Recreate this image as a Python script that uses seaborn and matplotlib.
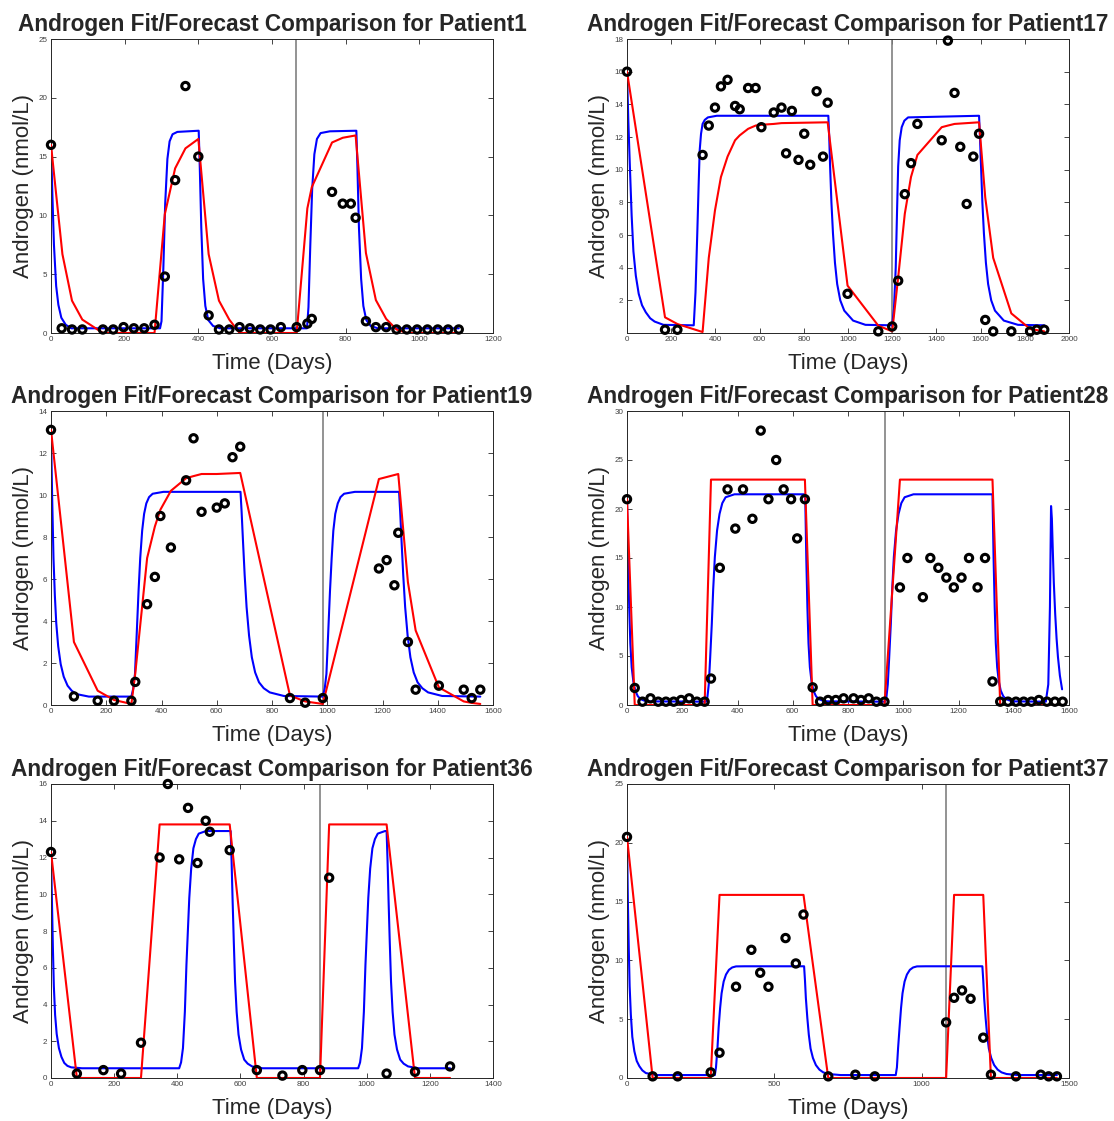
import numpy as np
import pandas as pd
import matplotlib
matplotlib.use("Agg")
import matplotlib.pyplot as plt
import seaborn as sns

# ---- data (days, androgen nmol/L) ----
patients = ["Patient1", "Patient17", "Patient19", "Patient28", "Patient36", "Patient37"]
cutoff_days = [666, 1201, 986, 933, 853, 1083]
x_max = [1200, 2000, 1600, 1600, 1400, 1500]
x_step = [200, 200, 200, 200, 200, 500]
y_max = [25, 18, 14, 30, 16, 25]
y_step = [5, 2, 2, 5, 2, 5]

# Patient1
p1_obs_t = [0, 29, 57, 85, 141, 169, 197, 225, 253, 281, 309, 337, 365, 400, 428, 456, 484, 512, 540, 568,
            596, 624, 667, 696, 708, 763, 792, 814, 827, 855, 882, 910, 938, 966, 994, 1022, 1050, 1078, 1107]
p1_obs_a = [16.0, 0.4, 0.3, 0.3, 0.3, 0.3, 0.5, 0.4, 0.4, 0.7, 4.8, 13.0, 21.0, 15.0, 1.5, 0.3, 0.3, 0.5, 0.4, 0.3,
            0.3, 0.5, 0.5, 0.8, 1.2, 12.0, 11.0, 11.0, 9.8, 1.0, 0.5, 0.5, 0.3, 0.3, 0.3, 0.3, 0.3, 0.3, 0.3]
p1_fc_t = [0, 31, 57, 85, 141, 281, 309, 337, 365, 400, 428, 456, 484, 512, 667, 696, 708, 763, 792, 827,
           855, 882, 910, 938, 966, 1107]
p1_fc_a = [16.0, 6.7, 2.75, 1.14, 0.0, 0.0, 10.1, 14.0, 15.7, 16.5, 6.7, 2.75, 1.14, 0.0, 0.0, 10.6, 12.4, 16.2,
           16.6, 16.8, 6.8, 2.8, 1.2, 0.3, 0.0, 0.0]
p1_fit_t = [0, 4, 8, 14, 20, 28, 40, 55, 296, 300, 305, 310, 316, 322, 330, 343, 401, 404, 408, 413, 419, 427, 440,
            459, 695, 699, 704, 709, 715, 722, 732, 757, 829, 832, 836, 842, 848, 856, 868, 887, 1107]
p1_fit_a = [16.0, 11.5, 7.5, 4.0, 2.4, 1.3, 0.7, 0.4, 0.4, 1.0, 5.5, 11.0, 14.8, 16.3, 16.9, 17.1, 17.2, 14.0,
            9.0, 4.6, 2.3, 1.1, 0.6, 0.4, 0.4, 2.2, 7.5, 12.2, 15.2, 16.5, 17.0, 17.15, 17.2, 14.0, 9.0, 4.6, 2.3,
            1.1, 0.6, 0.4, 0.4]

# Patient17
p2_obs_t = [0, 172, 228, 342, 370, 398, 425, 455, 489, 510, 548, 582, 608, 664, 699, 720, 746, 776, 802, 829,
            858, 887, 908, 998, 1137, 1200, 1227, 1257, 1285, 1314, 1424, 1452, 1482, 1508, 1537, 1567, 1593,
            1621, 1657, 1739, 1824, 1854, 1888]
p2_obs_a = [16.0, 0.2, 0.2, 10.9, 12.7, 13.8, 15.1, 15.5, 13.9, 13.7, 15.0, 15.0, 12.6, 13.5, 13.8, 11.0, 13.6,
            10.6, 12.2, 10.3, 14.8, 10.8, 14.1, 2.4, 0.1, 0.4, 3.2, 8.5, 10.4, 12.8, 11.8, 17.9, 14.7, 11.4, 7.9,
            10.8, 12.2, 0.8, 0.1, 0.1, 0.1, 0.2, 0.2]
p2_fc_t = [0, 172, 228, 342, 370, 398, 425, 455, 489, 510, 548, 582, 608, 664, 699, 908, 998, 1137, 1200, 1227,
           1257, 1285, 1314, 1424, 1452, 1482, 1593, 1621, 1657, 1739, 1824, 1888]
p2_fc_a = [16.0, 0.96, 0.55, 0.06, 4.6, 7.5, 9.55, 10.8, 11.8, 12.1, 12.5, 12.7, 12.75, 12.8, 12.85, 12.9, 2.9,
           0.45, 0.1, 3.4, 7.3, 9.55, 10.9, 12.6, 12.7, 12.8, 12.9, 8.3, 4.6, 1.2, 0.25, 0.1]
p2_fit_t = [0, 6, 13, 21, 29, 40, 53, 68, 85, 105, 125, 165, 302, 310, 318, 324, 329, 335, 342, 352, 366, 406,
            911, 915, 919, 925, 932, 941, 951, 965, 983, 1023, 1079, 1200, 1208, 1216, 1222, 1227, 1234, 1243, 1255,
            1272, 1593, 1597, 1602, 1608, 1615, 1624, 1634, 1648, 1665, 1705, 1769, 1888]
p2_fit_a = [16.0, 13.0, 10.2, 7.2, 5.0, 3.5, 2.4, 1.7, 1.27, 0.9, 0.7, 0.5, 0.47, 2.5, 6.1, 9.0, 11.2, 12.2,
            12.8, 13.05, 13.2, 13.3, 13.3, 12.0, 10.2, 8.0, 6.1, 4.3, 3.0, 2.0, 1.37, 0.76, 0.5, 0.47, 1.5, 4.0, 7.5,
            10.2, 11.8, 12.6, 13.0, 13.2, 13.3, 12.0, 10.2, 8.0, 6.1, 4.3, 3.0, 2.0, 1.37, 0.76, 0.5, 0.47]

# Patient19
p3_obs_t = [0, 83, 169, 228, 291, 305, 348, 376, 396, 434, 489, 516, 545, 600, 629, 657, 685, 865, 920, 984,
            1187, 1215, 1243, 1257, 1292, 1320, 1404, 1494, 1523, 1554]
p3_obs_a = [13.1, 0.41, 0.2, 0.2, 0.2, 1.1, 4.8, 6.1, 9.0, 7.5, 10.7, 12.7, 9.2, 9.4, 9.6, 11.8, 12.3, 0.33,
            0.11, 0.33, 6.5, 6.9, 5.7, 8.2, 3.0, 0.73, 0.92, 0.73, 0.33, 0.73]
p3_fc_t = [0, 83, 169, 228, 291, 305, 348, 376, 396, 434, 489, 516, 545, 600, 685, 865, 920, 984, 1187, 1257,
           1292, 1320, 1404, 1494, 1523, 1554]
p3_fc_a = [13.1, 3.0, 0.68, 0.24, 0.05, 1.5, 7.0, 8.5, 9.3, 10.2, 10.8, 10.9, 11.0, 11.0, 11.05, 0.45, 0.17,
           0.05, 10.76, 11.0, 5.85, 3.55, 0.84, 0.17, 0.1, 0.05]
p3_fit_t = [0, 4, 9, 14, 19, 26, 35, 46, 60, 75, 92, 137, 291, 298, 304, 310, 317, 323, 330, 337, 345, 355, 368,
            407, 686, 690, 695, 701, 708, 717, 727, 739, 753, 770, 792, 843, 984, 991, 997, 1003, 1010, 1016, 1022,
            1029, 1038, 1048, 1061, 1100, 1260, 1264, 1269, 1275, 1282, 1291, 1301, 1313, 1327, 1344, 1365, 1416,
            1554]
p3_fit_a = [13.1, 10.0, 7.0, 5.2, 3.9, 2.8, 1.95, 1.35, 0.92, 0.68, 0.52, 0.4, 0.4, 0.8, 1.48, 3.3, 5.45, 7.0,
            8.3, 9.1, 9.6, 9.9, 10.06, 10.15, 10.15, 9.2, 7.8, 6.2, 4.66, 3.3, 2.27, 1.55, 1.08, 0.8, 0.6, 0.43, 0.4,
            0.8, 1.48, 3.3, 5.45, 7.0, 8.3, 9.1, 9.6, 9.9, 10.06, 10.15, 10.15, 9.2, 7.8, 6.2, 4.66, 3.3, 2.27,
            1.55, 1.08, 0.8, 0.6, 0.43, 0.4]

# Patient28
p4_obs_t = [0, 28, 56, 85, 113, 141, 169, 196, 225, 253, 281, 304, 336, 364, 392, 420, 454, 484, 512, 540,
            567, 594, 616, 644, 672, 699, 728, 756, 784, 820, 847, 875, 903, 932, 988, 1015, 1071, 1098, 1127,
            1156, 1183, 1211, 1238, 1269, 1296, 1323, 1351, 1379, 1408, 1436, 1464, 1491, 1520, 1549, 1577]
p4_obs_a = [21.0, 1.74, 0.34, 0.68, 0.34, 0.34, 0.34, 0.51, 0.68, 0.34, 0.34, 2.7, 14.0, 22.0, 18.0, 22.0,
            19.0, 28.0, 21.0, 25.0, 22.0, 21.0, 17.0, 21.0, 1.8, 0.34, 0.51, 0.51, 0.68, 0.68, 0.51, 0.68, 0.34,
            0.34, 12.0, 15.0, 11.0, 15.0, 14.0, 13.0, 12.0, 13.0, 15.0, 12.0, 15.0, 2.4, 0.34, 0.34, 0.34, 0.34,
            0.34, 0.51, 0.34, 0.34, 0.34]
p4_fc_t = [0, 28, 281, 304, 644, 672, 932, 988, 1323, 1351, 1577]
p4_fc_a = [21.0, 0.0, 0.0, 23.0, 23.0, 0.0, 0.0, 23.0, 23.0, 0.0, 0.0]
p4_fit_t = [0, 4, 8, 12, 17, 23, 30, 39, 49, 62, 81, 286, 291, 296, 301, 307, 312, 318, 326, 335, 345, 357, 389,
            645, 649, 653, 657, 662, 668, 675, 684, 694, 708, 726, 934, 939, 944, 949, 955, 960, 966, 974, 983, 993,
            1005, 1037, 1323, 1327, 1331, 1335, 1340, 1346, 1353, 1362, 1372, 1386, 1404,
            1516, 1525, 1531, 1535, 1538, 1541, 1545, 1550, 1555, 1560, 1567, 1575]
p4_fit_a = [21.0, 14.5, 10.0, 6.3, 3.85, 2.4, 1.46, 0.9, 0.6, 0.45, 0.37, 0.34, 0.8, 2.1, 4.8, 8.3, 11.8, 15.1,
            17.8, 19.5, 20.6, 21.2, 21.5, 21.5, 15.0, 10.0, 6.3, 3.85, 2.4, 1.46, 0.9, 0.6, 0.45, 0.37, 0.34, 0.8,
            2.1, 4.8, 8.3, 11.8, 15.1, 17.8, 19.5, 20.6, 21.2, 21.5, 21.5, 15.0, 10.0, 6.3, 3.85, 2.4, 1.46, 0.9,
            0.6, 0.45, 0.37, 0.34, 2.1, 10.0, 20.3, 19.0, 16.1, 12.5, 9.3, 6.8, 4.9, 3.0, 1.6]

# Patient36
p5_obs_t = [0, 82, 166, 222, 285, 344, 370, 406, 434, 464, 490, 503, 566, 652, 733, 796, 852, 881, 1063,
            1153, 1264]
p5_obs_a = [12.3, 0.24, 0.43, 0.24, 1.92, 12.0, 16.0, 11.9, 14.7, 11.7, 14.0, 13.4, 12.4, 0.43, 0.13, 0.43,
            0.43, 10.9, 0.24, 0.34, 0.63]
p5_fc_t = [0, 82, 285, 344, 566, 652, 852, 881, 1063, 1153, 1264]
p5_fc_a = [12.3, 0.0, 0.0, 13.8, 13.8, 0.0, 0.0, 13.8, 13.8, 0.0, 0.0]
p5_fit_t = [0, 3, 6, 9, 13, 18, 25, 33, 42, 52, 64, 98, 406, 412, 418, 424, 429, 434, 438, 444, 451, 459, 468,
            491, 569, 572, 575, 579, 583, 588, 594, 602, 612, 623, 637, 670, 973, 979, 985, 991, 996, 1001, 1005,
            1011, 1018, 1026, 1035, 1058, 1063, 1066, 1069, 1073, 1077, 1082, 1088, 1096, 1106, 1117, 1131, 1164,
            1264]
p5_fit_a = [12.3, 9.6, 7.07, 5.0, 3.44, 2.4, 1.63, 1.15, 0.82, 0.66, 0.58, 0.53, 0.53, 0.85, 1.63, 3.6, 6.16,
            8.2, 9.8, 11.4, 12.5, 13.0, 13.3, 13.44, 13.44, 11.8, 9.8, 7.4, 5.25, 3.6, 2.36, 1.55, 1.0, 0.78, 0.63,
            0.53, 0.53, 0.85, 1.63, 3.6, 6.16, 8.2, 9.8, 11.4, 12.5, 13.0, 13.3, 13.44, 13.44, 11.8, 9.8, 7.4,
            5.25, 3.6, 2.36, 1.55, 1.0, 0.78, 0.63, 0.53, 0.53]

# Patient37
p6_obs_t = [0, 87, 172, 284, 314, 370, 422, 452, 480, 538, 573, 599, 683, 775, 841, 1083, 1110, 1137, 1166,
            1209, 1235, 1320, 1404, 1431, 1459]
p6_obs_a = [20.5, 0.14, 0.14, 0.48, 2.15, 7.76, 10.9, 8.95, 7.76, 11.9, 9.74, 13.9, 0.14, 0.28, 0.14, 4.73,
            6.82, 7.45, 6.74, 3.43, 0.28, 0.14, 0.28, 0.14, 0.14]
p6_fc_t = [0, 87, 284, 314, 599, 683, 1083, 1110, 1209, 1235, 1459]
p6_fc_a = [20.5, 0.0, 0.0, 15.57, 15.57, 0.0, 0.0, 15.57, 15.57, 0.0, 0.0]
p6_fit_t = [0, 3, 6, 9, 13, 18, 25, 33, 42, 52, 64, 100, 298, 302, 307, 311, 316, 321, 328, 336, 346, 357, 370,
            400, 601, 604, 607, 612, 617, 623, 631, 641, 653, 666, 683, 725, 912, 916, 920, 925, 930, 935, 942, 950,
            960, 971, 984, 1014, 1206, 1209, 1212, 1217, 1222, 1228, 1236, 1246, 1258, 1271, 1288, 1327, 1459]
p6_fit_a = [20.5, 15.0, 11.0, 7.8, 5.4, 3.5, 2.27, 1.45, 1.0, 0.65, 0.42, 0.25, 0.25, 0.9, 2.55, 4.3, 5.95, 7.2,
            8.2, 8.8, 9.2, 9.4, 9.49, 9.5, 9.5, 8.3, 6.8, 5.1, 3.68, 2.5, 1.7, 1.1, 0.71, 0.48, 0.34, 0.25, 0.25,
            0.9, 2.55, 4.3, 5.95, 7.2, 8.2, 8.8, 9.2, 9.4, 9.49, 9.5, 9.5, 8.3, 6.8, 5.1, 3.68, 2.5, 1.7, 1.1, 0.71,
            0.48, 0.34, 0.25, 0.25]

obs = [(p1_obs_t, p1_obs_a), (p2_obs_t, p2_obs_a), (p3_obs_t, p3_obs_a),
       (p4_obs_t, p4_obs_a), (p5_obs_t, p5_obs_a), (p6_obs_t, p6_obs_a)]
forecast = [(p1_fc_t, p1_fc_a), (p2_fc_t, p2_fc_a), (p3_fc_t, p3_fc_a),
            (p4_fc_t, p4_fc_a), (p5_fc_t, p5_fc_a), (p6_fc_t, p6_fc_a)]
fit = [(p1_fit_t, p1_fit_a), (p2_fit_t, p2_fit_a), (p3_fit_t, p3_fit_a),
       (p4_fit_t, p4_fit_a), (p5_fit_t, p5_fit_a), (p6_fit_t, p6_fit_a)]

# ---- style ----
sns.set_style("ticks")
plt.rcParams["font.family"] = ["Liberation Sans", "DejaVu Sans"]
dark = "#262626"

fig = plt.figure(figsize=(11.14, 11.21), dpi=100)
W, H = 1114.0, 1121.0
col_left = [51, 627]
row_top = [39, 411, 784]
ax_w, ax_h = 442, 294

for i, name in enumerate(patients):
    r, c = divmod(i, 2)
    ax = fig.add_axes([col_left[c] / W, 1 - (row_top[r] + ax_h) / H, ax_w / W, ax_h / H])

    ax.axvline(cutoff_days[i], color="#808080", lw=1.2, zorder=1)

    ft, fa = fit[i]
    sns.lineplot(x=ft, y=fa, ax=ax, color="#0000ff", lw=1.5, sort=False, estimator=None, zorder=2)
    ct, ca = forecast[i]
    sns.lineplot(x=ct, y=ca, ax=ax, color="#ff0000", lw=1.5, sort=False, estimator=None, zorder=3)
    ot, oa = obs[i]
    sns.scatterplot(x=ot, y=oa, ax=ax, s=28, facecolor="none", edgecolor="k", linewidth=2.2,
                    zorder=4, clip_on=False)

    ax.set_xlim(0, x_max[i])
    ax.set_ylim(0, y_max[i])
    ax.set_xticks(np.arange(0, x_max[i] + 1, x_step[i]))
    yt = np.arange(0, y_max[i] + 0.01, y_step[i])
    if name == "Patient17":
        yt = yt[1:]
    ax.set_yticks(yt)

    ax.tick_params(direction="in", length=3.5, width=0.6, top=True, right=True,
                   labelsize=5.8, labelcolor="#404040", color=dark, pad=2.5)
    for sp in ax.spines.values():
        sp.set_color(dark)
        sp.set_linewidth(0.7)

    ax.set_title("Androgen Fit/Forecast Comparison for " + name, fontsize=16.3,
                 fontweight="bold", pad=6)
    ax.set_xlabel("Time (Days)", fontsize=16, color=dark)
    ax.set_ylabel("Androgen (nmol/L)", fontsize=16, color=dark)
    ax.xaxis.set_label_coords(0.5, -0.068)
    ax.yaxis.set_label_coords(-0.039, 0.5)

fig.savefig("out.png", dpi=100)
